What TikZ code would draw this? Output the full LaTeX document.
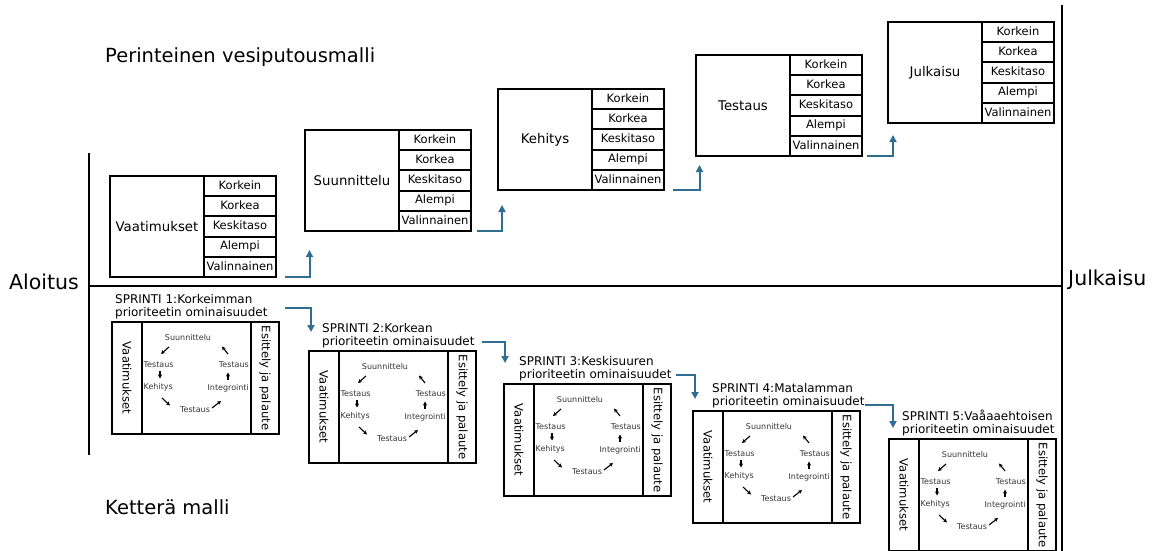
\documentclass[tikz,border=0pt]{standalone}
\usepackage{fontspec}
\setmainfont{DejaVu Sans}
\usetikzlibrary{calc,arrows.meta}
\definecolor{flowblue}{RGB}{47,110,145}
\definecolor{cycgray}{RGB}{55,55,55}
\tikzset{
  bigbox/.style={draw, line width=2.1pt, minimum width=94pt, minimum height=101pt, inner sep=0pt, outer sep=0pt, anchor=north west, font=\fontsize{13.3}{15}\selectfont},
  rowbox/.style={draw, line width=2.1pt, minimum width=72pt, minimum height=20.2pt, inner sep=0pt, outer sep=0pt, anchor=north west, font=\fontsize{11.5}{13}\selectfont, text height=8.5pt, text depth=2.3pt},
  colbox/.style={draw, line width=2.1pt, minimum height=112pt, inner sep=0pt, outer sep=0pt, anchor=north west},
  vtext/.style={rotate=-90, inner sep=0pt, font=\fontsize{11.6}{13}\selectfont},
  cyc/.style={inner sep=0pt, text=cycgray, font=\fontsize{8}{9}\selectfont},
  cycarrow/.style={line width=1.1pt, -{Stealth[length=4pt,width=4pt]}},
  flow/.style={draw=flowblue, line width=2pt, -{Triangle[length=7pt,width=7pt]}},
  axis/.style={line width=1.5pt},
  sprlabel/.style={inner sep=0pt, anchor=base west, font=\fontsize{12}{14}\selectfont},
  bigtext/.style={inner sep=0pt, anchor=base west, font=\fontsize{19.5}{22}\selectfont},
}
\newcommand\wfblock[4]{%
  \node[bigbox] (#1) at (#2,#3) {#4};
  \node[rowbox] (#1-1) at (#1.north east) {Korkein};
  \node[rowbox] (#1-2) at (#1-1.south west) {Korkea};
  \node[rowbox] (#1-3) at (#1-2.south west) {Keskitaso};
  \node[rowbox] (#1-4) at (#1-3.south west) {Alempi};
  \node[rowbox] (#1-5) at (#1-4.south west) {Valinnainen};
}
\newcommand\sprintbox[3]{%
  \node[colbox, minimum width=30pt] (#1-req) at (#2,#3) {};
  \node[colbox, minimum width=109pt] (#1-mid) at (#1-req.north east) {};
  \node[colbox, minimum width=28pt] (#1-dem) at (#1-mid.north east) {};
  \node[vtext] (#1-reqt) at (#1-req.center) {Vaatimukset};
  \node[vtext] (#1-demt) at (#1-dem.center) {Esittely ja palaute};
  \coordinate (#1-o) at (#1-mid.north west);
  \node[cyc] (#1-su) at ($(#1-o)+(46,16)$) {Suunnittelu};
  \node[cyc, anchor=west] (#1-t1) at ($(#1-o)+(1.5,43)$) {Testaus};
  \node[cyc, anchor=west] (#1-ke) at ($(#1-o)+(1.5,65)$) {Kehitys};
  \node[cyc] (#1-t2) at ($(#1-o)+(53,88)$) {Testaus};
  \node[cyc, anchor=east] (#1-in) at ($(#1-o)+(107,66)$) {Integrointi};
  \node[cyc, anchor=east] (#1-t3) at ($(#1-o)+(107,43)$) {Testaus};
  \draw[cycarrow] ($(#1-o)+(27,25)$) -- ($(#1-o)+(19,32)$);
  \draw[cycarrow] ($(#1-o)+(18,49)$) -- ($(#1-o)+(18,56.5)$);
  \draw[cycarrow] ($(#1-o)+(20,76)$) -- ($(#1-o)+(28,83.5)$);
  \draw[cycarrow] ($(#1-o)+(70,86)$) -- ($(#1-o)+(79,79)$);
  \draw[cycarrow] ($(#1-o)+(86,58)$) -- ($(#1-o)+(86,50.5)$);
  \draw[cycarrow] ($(#1-o)+(86,32)$) -- ($(#1-o)+(80,24.5)$);
}
\begin{document}
\begin{tikzpicture}[x=1pt,y=-1pt]
\clip (0,0) rectangle (1153,551);
\fill[white] (0,0) rectangle (1153,551);
% axes
\coordinate (Ltop) at (89,153);
\coordinate (Lbot) at (89,455);
\coordinate (Rtop) at (1062,5);
\coordinate (Rbot) at (1062,556);
\coordinate (Hmid) at (89,286);
\draw[axis] (Ltop) -- (Lbot);
\draw[axis] (Rtop) -- (Rbot);
\draw[axis] (Hmid) -- (Hmid -| Rtop);
% big labels
\node[bigtext, font=\fontsize{20.5}{24}\selectfont] (aloitus) at (9,289) {Aloitus};
\node[bigtext, font=\fontsize{20.5}{24}\selectfont] (julk) at (1068,285) {Julkaisu};
\node[bigtext] (title1) at (105,63) {Perinteinen vesiputousmalli};
\node[bigtext] (title2) at (105,514) {Ketterä malli};
% waterfall
\wfblock{V}{110}{176}{Vaatimukset}
\wfblock{S}{305}{130}{Suunnittelu}
\wfblock{K}{498}{89}{Kehitys}
\wfblock{T}{696}{55}{Testaus}
\wfblock{J}{888}{22}{Julkaisu}
\draw[flow] ($(V-5.south east)+(9,-0.5)$) -| ($(S.south west)+(4.5,19)$);
\draw[flow] ($(S-5.south east)+(6,-0.5)$) -| ($(K.south west)+(4,15)$);
\draw[flow] ($(K-5.south east)+(9,-0.5)$) -| ($(T.south west)+(3.5,9)$);
\draw[flow] ($(T-5.south east)+(5,-0.5)$) -| ($(J.south west)+(5,12)$);
% sprints
\sprintbox{A}{112}{322}
\sprintbox{B}{309}{351}
\sprintbox{C}{504}{384}
\sprintbox{D}{693}{411}
\sprintbox{E}{889}{439}
\node[sprlabel] (A-l1) at (115,303) {SPRINTI 1:Korkeimman};
\node[sprlabel] (A-l2) at (115,316.5) {prioriteetin ominaisuudet};
\node[sprlabel] (B-l1) at (322,332) {SPRINTI 2:Korkean};
\node[sprlabel] (B-l2) at (322,345.5) {prioriteetin ominaisuudet};
\node[sprlabel] (C-l1) at (519,365) {SPRINTI 3:Keskisuuren};
\node[sprlabel] (C-l2) at (519,378.5) {prioriteetin ominaisuudet};
\node[sprlabel] (D-l1) at (712,392) {SPRINTI 4:Matalamman};
\node[sprlabel] (D-l2) at (712,405.5) {prioriteetin ominaisuudet};
\node[sprlabel] (E-l1) at (902,420) {SPRINTI 5:Vaåaaehtoisen};
\node[sprlabel] (E-l2) at (902,433.5) {prioriteetin ominaisuudet};
\draw[flow] ($(A-dem.north east)+(6,-14)$) -| ($(B-req.north west)+(2,-19)$);
\draw[flow] ($(B-dem.north east)+(6,-9)$) -| ($(C-req.north west)+(1,-21)$);
\draw[flow] ($(C-dem.north east)+(5,-9)$) -| ($(D-req.north west)+(2,-12)$);
\draw[flow] ($(D-dem.north east)+(5,-6)$) -| ($(E-req.north west)+(4,-11)$);
\end{tikzpicture}
\end{document}
